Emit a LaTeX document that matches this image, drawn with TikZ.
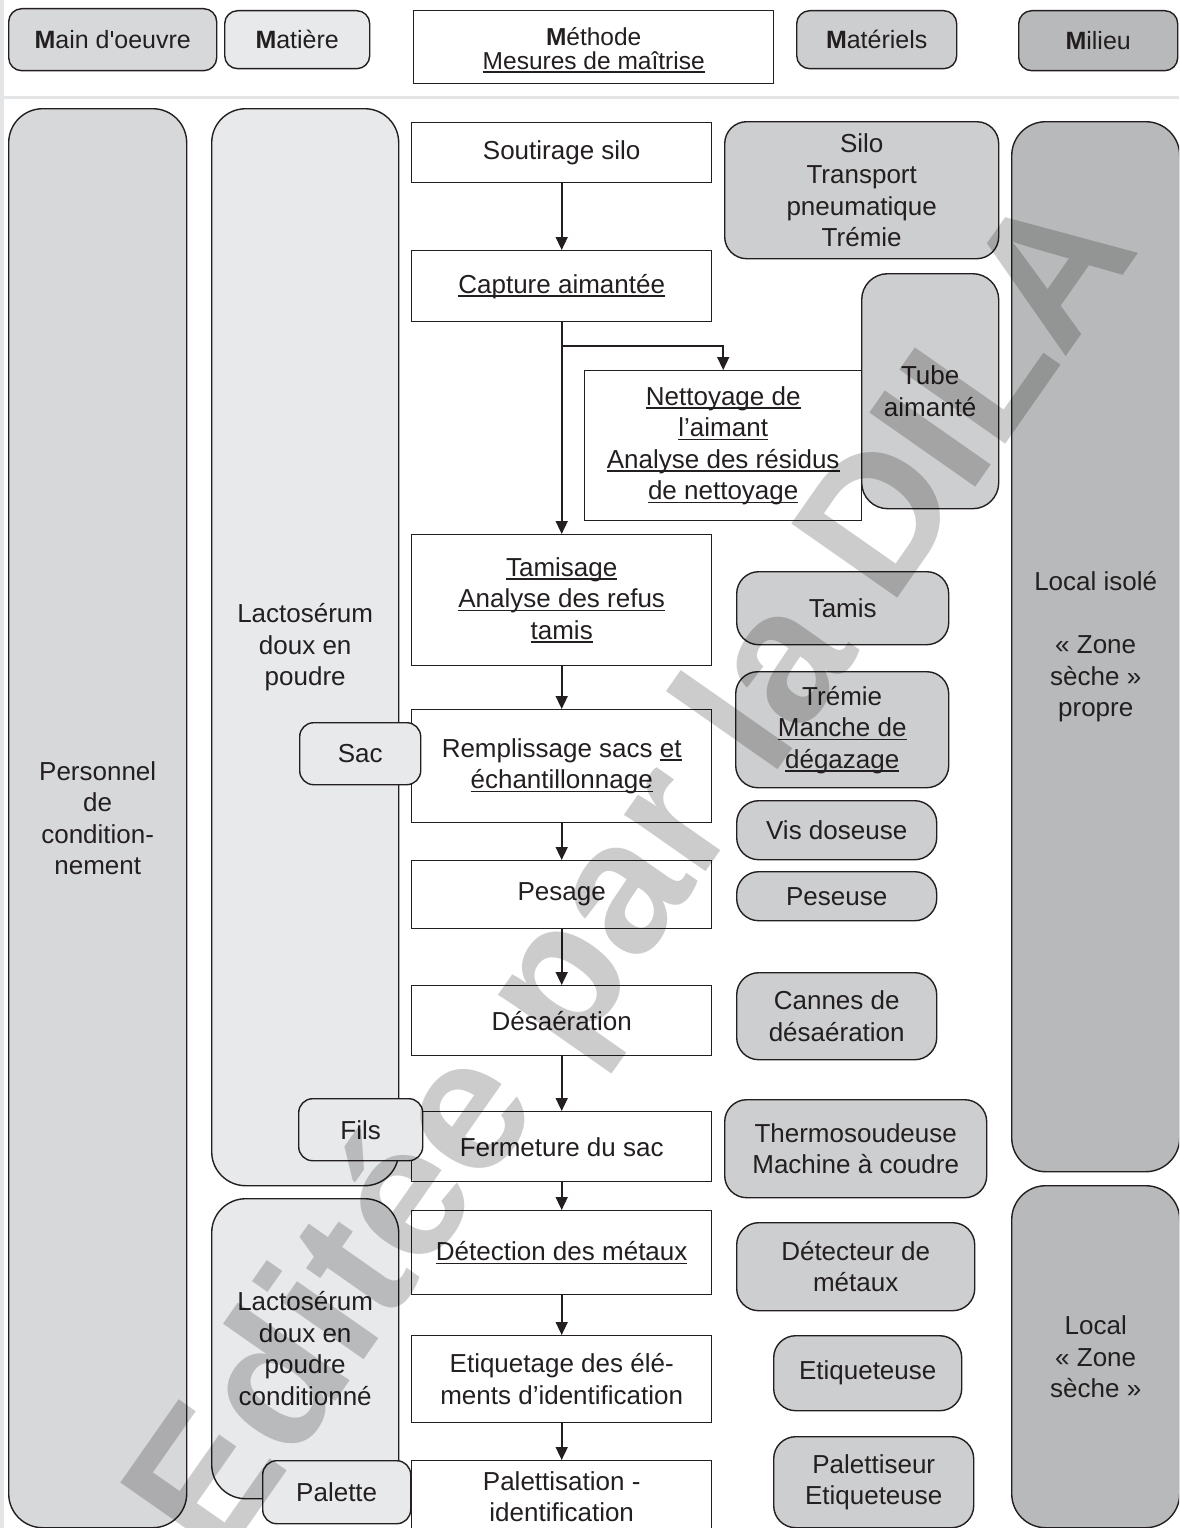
\documentclass[tikz,border=0pt]{standalone}
\usepackage{fontspec}
\setmainfont{Liberation Sans}
\usetikzlibrary{arrows.meta}
\definecolor{ink}{HTML}{231F20}
\definecolor{cMO}{HTML}{D7D8DA}
\definecolor{cMat}{HTML}{E8E9EB}
\definecolor{cEq}{HTML}{CDCECF}
\definecolor{cMil}{HTML}{B8B9BA}
\definecolor{frameg}{HTML}{E4E5E6}
\newcommand\myul[1]{\setbox0\hbox{#1}\rlap{\rule[-3.6pt]{\wd0}{1.5pt}}\box0}
\newcommand\sqap{\hspace{0.06em}\rule[0.47em]{0.07em}{0.24em}\hspace{0.06em}}
\tikzset{
  x=1pt, y=-1pt,
  base/.style={draw=ink, line width=1.4pt, text=ink, align=center, inner sep=0pt,
    anchor=north west, font=\fontsize{26}{31.5}\selectfont},
  methbox/.style={base, fill=white},
  headbox/.style={base, rounded corners=13pt, font=\fontsize{25}{30}\selectfont},
  colbox/.style={base, rounded corners=34pt},
  eqbox/.style={base, fill=cEq, rounded corners=22pt},
  smallbox/.style={base, fill=cMat, rounded corners=14pt},
  arr/.style={draw=ink, line width=1.6pt, -{Triangle[length=13pt,width=12pt]}},
}
\begin{document}
\begin{tikzpicture}
\useasboundingbox (0,0) rectangle (1179,1528);
\clip (0,0) rectangle (1179,1528);
\fill[white] (0,0) rectangle (1179,1528);
% frame
\draw[frameg, line width=4pt] (1.5,0) -- (1.5,1528);
\draw[frameg, line width=3pt] (0,97) -- (1179,97);

% header row
\node[headbox, fill=cMO, minimum width=208pt, minimum height=62pt] (hMO) at (8,8) {\textbf{M}ain d\sqap oeuvre};
\node[headbox, fill=cMat, minimum width=145pt, minimum height=58pt] (hMat) at (224,10) {\textbf{M}atière};
\node[base, fill=white, minimum width=360pt, minimum height=73pt, font=\fontsize{24.5}{24}\selectfont] (hMeth) at (413,10) {\rule{0pt}{24pt}\textbf{M}éthode\\\myul{Mesures de maîtrise}};
\node[headbox, fill=cEq, minimum width=160pt, minimum height=58pt] (hEq) at (796,10) {\textbf{M}atériels};
\node[headbox, fill=cMil, minimum width=159pt, minimum height=60pt] (hMil) at (1018,10) {\textbf{M}ilieu};

% columns
\node[colbox, fill=cMO, minimum width=178pt, minimum height=1419pt] (pers) at (8,108) {Personnel\\de\\condition-\\nement};
\node[colbox, fill=cMat, minimum width=187pt, minimum height=1077pt] (lact1) at (211,108) {Lactosérum\\doux en\\poudre};
\node[colbox, fill=cMat, minimum width=187pt, minimum height=300pt] (lact2) at (211,1198) {Lactosérum\\doux en\\poudre\\conditionné};
\node[colbox, fill=cMil, minimum width=168pt, minimum height=1050pt] (mil1) at (1011,121) {Local isolé\\[31.5pt]« Zone\\sèche »\\propre};
\node[colbox, fill=cMil, minimum width=168pt, minimum height=342pt] (mil2) at (1011,1185) {Local\\« Zone\\sèche »};

% method boxes
\node[methbox, minimum width=300pt, minimum height=60pt] (s1) at (411,122) {Soutirage silo};
\node[methbox, minimum width=300pt, minimum height=71pt] (s2) at (411,250) {\myul{Capture aimantée}};
\node[methbox, minimum width=277pt, minimum height=150pt] (nett) at (584,370) {\myul{Nettoyage de}\\\myul{l’aimant}\\\myul{Analyse des résidus}\\\myul{de nettoyage}};
\node[methbox, minimum width=300pt, minimum height=131pt] (s3) at (411,534) {\myul{Tamisage}\\\myul{Analyse des refus}\\\myul{tamis}};
\node[methbox, minimum width=300pt, minimum height=113pt] (s4) at (411,709) {Remplissage sacs \myul{et}\\\myul{échantillonnage}};
\node[methbox, minimum width=300pt, minimum height=68pt] (s5) at (411,860) {Pesage};
\node[methbox, minimum width=300pt, minimum height=70pt] (s6) at (411,985) {Désaération};
\node[methbox, minimum width=300pt, minimum height=70pt] (s7) at (411,1111) {Fermeture du sac};
\node[methbox, minimum width=300pt, minimum height=84pt] (s8) at (411,1210) {\myul{Détection des métaux}};
\node[methbox, minimum width=300pt, minimum height=87pt] (s9) at (411,1335) {Etiquetage des élé-\\ments d’identification};
\node[methbox, minimum width=300pt, minimum height=72pt] (s10) at (411,1460) {Palettisation -\\identification};

% equipment
\node[eqbox, minimum width=274pt, minimum height=137pt] (e1) at (724,121) {Silo\\Transport\\pneumatique\\Trémie};
\node[eqbox, rounded corners=26pt, minimum width=137pt, minimum height=235pt] (e2) at (861,273) {Tube\\aimanté};
\node[eqbox, minimum width=212pt, minimum height=73pt] (e3) at (736,571) {Tamis};
\node[eqbox, minimum width=213pt, minimum height=116pt] (e4) at (735,671) {Trémie\\\myul{Manche de}\\\myul{dégazage}};
\node[eqbox, minimum width=200pt, minimum height=59pt] (e5) at (736,800) {Vis doseuse};
\node[eqbox, minimum width=200pt, minimum height=49pt] (e6) at (736,871) {Peseuse};
\node[eqbox, minimum width=200pt, minimum height=87pt] (e7) at (736,972) {Cannes de\\désaération};
\node[eqbox, minimum width=262pt, minimum height=98pt] (e8) at (724,1099) {Thermosoudeuse\\Machine à coudre};
\node[eqbox, minimum width=238pt, minimum height=88pt] (e9) at (736,1222) {Détecteur de\\métaux};
\node[eqbox, minimum width=188pt, minimum height=75pt] (e10) at (773,1335) {Etiqueteuse};
\node[eqbox, minimum width=200pt, minimum height=91pt] (e11) at (773,1436) {Palettiseur\\Etiqueteuse};

% materials attached
\node[smallbox, minimum width=121pt, minimum height=62pt] (sac) at (299,722) {Sac};
\node[smallbox, minimum width=124pt, minimum height=62pt] (fils) at (298,1098) {Fils};
\node[smallbox, minimum width=148pt, minimum height=63pt] (pal) at (262,1460) {Palette};

% connectors
\coordinate (br) at (561,346);
\draw[arr] (s1) -- (s2);
\draw[arr] (s2) -- (s3);
\draw[arr] (br) -| (nett.north);
\draw[arr] (s3) -- (s4);
\draw[arr] (s4) -- (s5);
\draw[arr] (s5) -- (s6);
\draw[arr] (s6) -- (s7);
\draw[arr] (s7) -- (s8);
\draw[arr] (s8) -- (s9);
\draw[arr] (s9) -- (s10);

% watermark
\node[rotate=55, text=black, opacity=0.2, inner sep=0pt, font=\fontsize{188}{188}\bfseries] (wm) at (640,880) {Editée par la DILA};
\end{tikzpicture}
\end{document}
